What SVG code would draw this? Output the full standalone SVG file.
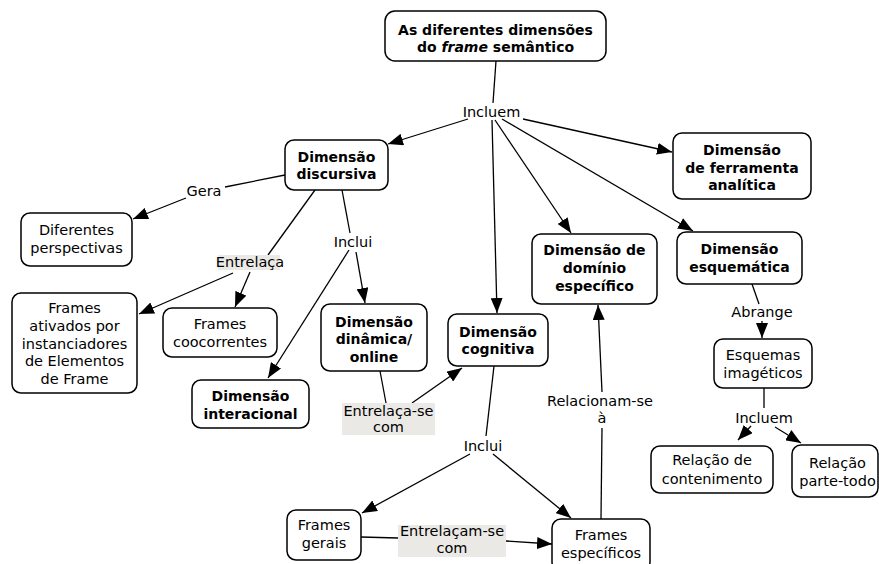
<svg xmlns="http://www.w3.org/2000/svg" width="879" height="564" viewBox="0 0 879 564">
<style>
.box{fill:#fff;stroke:#000;stroke-width:1.5}
.t{font-family:"DejaVu Sans",Verdana,sans-serif;font-size:14.5px;fill:#000;text-anchor:middle}
.b{font-weight:bold;font-size:14px}
.c{stroke:#000;stroke-width:1.3;fill:none}
.lbg{fill:#ebe9e6}
</style>
<defs>
<marker id="ah" markerUnits="userSpaceOnUse" markerWidth="15" markerHeight="12" refX="15" refY="6" orient="auto">
<path d="M0,0 L15,6 L0,12 z" fill="#000"/>
</marker>
</defs>
<rect width="879" height="564" fill="#fff"/>
<g id="connectors">
<line class="c" x1="496" y1="61" x2="493" y2="103"/>
<line class="c" x1="468" y1="119" x2="388" y2="144" marker-end="url(#ah)"/>
<line class="c" x1="523" y1="119" x2="672" y2="152" marker-end="url(#ah)"/>
<line class="c" x1="502" y1="119" x2="693" y2="231" marker-end="url(#ah)"/>
<line class="c" x1="495" y1="120" x2="571" y2="233" marker-end="url(#ah)"/>
<line class="c" x1="492" y1="120" x2="497" y2="313" marker-end="url(#ah)"/>
<line class="c" x1="285" y1="175" x2="225" y2="187"/>
<line class="c" x1="186" y1="198" x2="133" y2="219" marker-end="url(#ah)"/>
<line class="c" x1="315" y1="190" x2="268" y2="255"/>
<line class="c" x1="250" y1="272" x2="235" y2="307" marker-end="url(#ah)"/>
<line class="c" x1="233" y1="273" x2="139" y2="314" marker-end="url(#ah)"/>
<line class="c" x1="342" y1="190" x2="350" y2="233"/>
<line class="c" x1="356" y1="252" x2="365" y2="303" marker-end="url(#ah)"/>
<line class="c" x1="349" y1="250" x2="268" y2="378" marker-end="url(#ah)"/>
<line class="c" x1="380" y1="371" x2="386" y2="403"/>
<line class="c" x1="412" y1="403" x2="462" y2="368" marker-end="url(#ah)"/>
<line class="c" x1="494" y1="366" x2="486" y2="436"/>
<line class="c" x1="470" y1="454" x2="362" y2="513" marker-end="url(#ah)"/>
<line class="c" x1="493" y1="454" x2="571" y2="518" marker-end="url(#ah)"/>
<line class="c" x1="361" y1="537" x2="398" y2="538"/>
<line class="c" x1="506" y1="541" x2="552" y2="544" marker-end="url(#ah)"/>
<line class="c" x1="601" y1="519" x2="602" y2="428"/>
<line class="c" x1="602" y1="392" x2="598" y2="305" marker-end="url(#ah)"/>
<line class="c" x1="752" y1="284" x2="759" y2="304"/>
<line class="c" x1="762" y1="321" x2="762" y2="338" marker-end="url(#ah)"/>
<line class="c" x1="764" y1="388" x2="764" y2="408"/>
<line class="c" x1="751" y1="426" x2="738" y2="440" marker-end="url(#ah)"/>
<line class="c" x1="775" y1="427" x2="801" y2="443" marker-end="url(#ah)"/>
</g>
<g id="labels">
<text class="t" x="491.5" y="117">Incluem</text>
<text class="t" x="204" y="196">Gera</text>
<rect class="lbg" x="218" y="255" width="62" height="15"/>
<text class="t" x="250" y="267">Entrelaça</text>
<text class="t" x="353" y="247">Inclui</text>
<rect class="lbg" x="342" y="403" width="93" height="32"/>
<text class="t" x="388.5" y="416">Entrelaça-se</text>
<text class="t" x="388.5" y="432">com</text>
<text class="t" x="483" y="451">Inclui</text>
<rect class="lbg" x="398" y="525" width="108" height="32"/>
<text class="t" x="452" y="536">Entrelaçam-se</text>
<text class="t" x="452" y="553">com</text>
<text class="t" x="600" y="406">Relacionam-se</text>
<text class="t" x="602" y="423">à</text>
<text class="t" x="762" y="317">Abrange</text>
<text class="t" x="764" y="423">Incluem</text>
</g>
<g id="n-title">
<rect class="box" x="385" y="11" width="221" height="50" rx="10"/>
<text class="t b" x="495.5" y="35">As diferentes dimensões</text>
<text class="t b" x="495.5" y="52">do <tspan font-style="italic">frame</tspan> semântico</text>
</g>
<g id="n-discursiva">
<rect class="box" x="285" y="140" width="103" height="50" rx="9"/>
<text class="t b" x="336.5" y="162">Dimensão</text>
<text class="t b" x="336.5" y="179">discursiva</text>
</g>
<g id="n-perspectivas">
<rect class="box" x="21" y="213" width="111" height="53" rx="9"/>
<text class="t" x="76.5" y="235">Diferentes</text>
<text class="t" x="76.5" y="253">perspectivas</text>
</g>
<g id="n-ativados">
<rect class="box" x="12" y="293" width="125" height="100" rx="9"/>
<text class="t" x="74.5" y="313">Frames</text>
<text class="t" x="74.5" y="331">ativados por</text>
<text class="t" x="74.5" y="349">instanciadores</text>
<text class="t" x="74.5" y="366">de Elementos</text>
<text class="t" x="74.5" y="384">de Frame</text>
</g>
<g id="n-coocorrentes">
<rect class="box" x="163" y="308" width="114" height="49" rx="9"/>
<text class="t" x="220" y="329">Frames</text>
<text class="t" x="220" y="347">coocorrentes</text>
</g>
<g id="n-dinamica">
<rect class="box" x="321" y="304" width="106" height="67" rx="9"/>
<text class="t b" x="374" y="327">Dimensão</text>
<text class="t b" x="374" y="344">dinâmica/</text>
<text class="t b" x="374" y="362">online</text>
</g>
<g id="n-interacional">
<rect class="box" x="192" y="380" width="117" height="48" rx="9"/>
<text class="t b" x="250.5" y="401">Dimensão</text>
<text class="t b" x="250.5" y="419">interacional</text>
</g>
<g id="n-cognitiva">
<rect class="box" x="448" y="314" width="100" height="52" rx="9"/>
<text class="t b" x="498" y="337">Dimensão</text>
<text class="t b" x="498" y="354">cognitiva</text>
</g>
<g id="n-gerais">
<rect class="box" x="287" y="510" width="74" height="50" rx="9"/>
<text class="t" x="324" y="530">Frames</text>
<text class="t" x="324" y="548">gerais</text>
</g>
<g id="n-especificos">
<rect class="box" x="552" y="519" width="98" height="52" rx="9"/>
<text class="t" x="601" y="540">Frames</text>
<text class="t" x="601" y="558">específicos</text>
</g>
<g id="n-dominio">
<rect class="box" x="532" y="234" width="125" height="70" rx="9"/>
<text class="t b" x="594.5" y="255">Dimensão de</text>
<text class="t b" x="594.5" y="273">domínio</text>
<text class="t b" x="594.5" y="291">específico</text>
</g>
<g id="n-esquematica">
<rect class="box" x="677" y="232" width="125" height="52" rx="9"/>
<text class="t b" x="739.5" y="254">Dimensão</text>
<text class="t b" x="739.5" y="272">esquemática</text>
</g>
<g id="n-ferramenta">
<rect class="box" x="673" y="133" width="138" height="66" rx="9"/>
<text class="t b" x="742" y="155">Dimensão</text>
<text class="t b" x="742" y="173">de ferramenta</text>
<text class="t b" x="742" y="190">analítica</text>
</g>
<g id="n-esquemas">
<rect class="box" x="714" y="339" width="98" height="49" rx="9"/>
<text class="t" x="763" y="360">Esquemas</text>
<text class="t" x="763" y="378">imagéticos</text>
</g>
<g id="n-contenimento">
<rect class="box" x="651" y="446" width="122" height="47" rx="9"/>
<text class="t" x="712" y="465">Relação de</text>
<text class="t" x="712" y="484">contenimento</text>
</g>
<g id="n-partetodo">
<rect class="box" x="792" y="445" width="86" height="52" rx="9"/>
<text class="t" x="837.5" y="468">Relação</text>
<text class="t" x="837.5" y="486">parte-todo</text>
</g>
</svg>
